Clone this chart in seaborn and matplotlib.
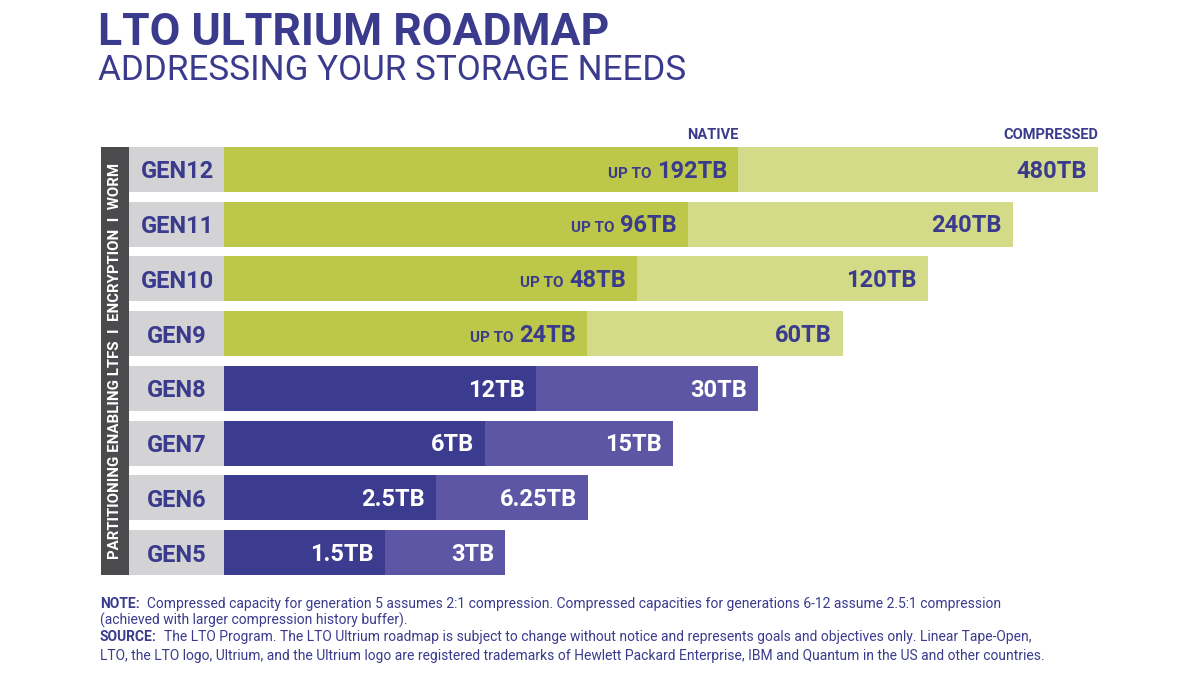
import pandas as pd
import matplotlib.pyplot as plt
import seaborn as sns
from matplotlib.patches import Rectangle

# Datos del roadmap (de arriba hacia abajo)
generations = ['GEN12', 'GEN11', 'GEN10', 'GEN9', 'GEN8', 'GEN7', 'GEN6', 'GEN5']
native_labels = ['192TB', '96TB', '48TB', '24TB', '12TB', '6TB', '2.5TB', '1.5TB']
compressed_labels = ['480TB', '240TB', '120TB', '60TB', '30TB', '15TB', '6.25TB', '3TB']
up_to = [True, True, True, True, False, False, False, False]
# Longitudes dibujadas en el gráfico original (escala esquemática, no proporcional a TB)
native_len = [514, 464, 413, 363, 312, 261, 212, 161]
compressed_len = [874, 789, 704, 619, 534, 449, 364, 281]
family = ['future', 'future', 'future', 'future', 'current', 'current', 'current', 'current']

df = pd.DataFrame({'gen': generations, 'native': native_len, 'compressed': compressed_len,
                   'family': family})

NAVY = '#3b3b8e'
pal_native = {'future': '#bdc84a', 'current': '#3b3b8f'}
pal_comp = {'future': '#d3da88', 'current': '#5c56a4'}
txt_color = {'future': NAVY, 'current': 'white'}

sns.set_theme(style='white')
plt.rcParams['font.family'] = ['Roboto', 'DejaVu Sans']

fig = plt.figure(figsize=(12, 6.75), dpi=100)
ax = fig.add_axes([101 / 1200, 1 - 580 / 675, 999 / 1200, 438 / 675])

sns.barplot(data=df, x='compressed', y='gen', hue='family', palette=pal_comp, dodge=False,
            width=0.82, orient='h', legend=False, ax=ax, saturation=1, linewidth=0)
sns.barplot(data=df, x='native', y='gen', hue='family', palette=pal_native, dodge=False,
            width=0.82, orient='h', legend=False, ax=ax, saturation=1, linewidth=0)

# cajas grises de etiquetas y franja vertical
ax.barh(range(len(generations)), 95, left=-95, height=0.82, color='#d3d3d5', linewidth=0)
ax.add_patch(Rectangle((-123, -0.41), 28, len(generations) - 1 + 0.82, color='#4b4b4d', lw=0))
ax.text(-109, (len(generations) - 1) / 2, 'PARTITIONING ENABLING LTFS  I  ENCRYPTION  I  WORM',
        rotation=90, ha='center', va='center', color='white', fontsize=10.8, fontweight='bold')

for i, row in df.iterrows():
    ax.text(-47, i, row['gen'], ha='center', va='center_baseline', color=NAVY,
            fontsize=17, fontweight='bold')
    c = txt_color[row['family']]
    ax.text(row['compressed'] - 11, i + 0.15, compressed_labels[i], ha='right', va='baseline',
            color=c, fontsize=17, fontweight='bold')
    t = ax.text(row['native'] - 11, i + 0.15, native_labels[i], ha='right', va='baseline',
                color=c, fontsize=17, fontweight='bold')
    if up_to[i]:
        ax.annotate('UP TO', xy=(0, i + 0.15), xycoords=(t, 'data'), xytext=(-4, 0),
                    textcoords='offset points', ha='right', va='baseline', color=c,
                    fontsize=11, fontweight='bold')

ax.text(native_len[0], -0.5, 'NATIVE', ha='right', va='bottom', color=NAVY,
        fontsize=10.5, fontweight='bold')
ax.text(compressed_len[0], -0.5, 'COMPRESSED', ha='right', va='bottom', color=NAVY,
        fontsize=10.5, fontweight='bold')

ax.set_xlim(-123, 876)
ax.set_ylim(len(generations) - 0.5, -0.5)
ax.axis('off')

# títulos
fig.text(98 / 1200, 1 - 45 / 675, 'LTO ULTRIUM ROADMAP', ha='left', va='baseline',
         color=NAVY, fontsize=32, fontweight='bold')
fig.text(98 / 1200, 1 - 80 / 675, 'ADDRESSING YOUR STORAGE NEEDS', ha='left', va='baseline',
         color=NAVY, fontsize=25.2)

# notas
notes = [
    ('NOTE:', '  Compressed capacity for generation 5 assumes 2:1 compression. Compressed capacities for generations 6-12 assume 2.5:1 compression', 608),
    ('', '(achieved with larger compression history buffer).', 625),
    ('SOURCE:', '  The LTO Program. The LTO Ultrium roadmap is subject to change without notice and represents goals and objectives only. Linear Tape-Open,', 641),
    ('', 'LTO, the LTO logo, Ultrium, and the Ultrium logo are registered trademarks of Hewlett Packard Enterprise, IBM and Quantum in the US and other countries.', 660),
]
for bold, rest, ypx in notes:
    y = 1 - ypx / 675
    if bold:
        b = fig.text(100 / 1200, y, bold, ha='left', va='baseline', color=NAVY,
                     fontsize=10, fontweight='bold')
        ax.annotate(rest, xy=(1, y), xycoords=(b, 'figure fraction'), ha='left',
                    va='baseline', color=NAVY, fontsize=10, annotation_clip=False)
    else:
        fig.text(100 / 1200, y, rest, ha='left', va='baseline', color=NAVY, fontsize=10)

fig.savefig('out.png', dpi=100)
